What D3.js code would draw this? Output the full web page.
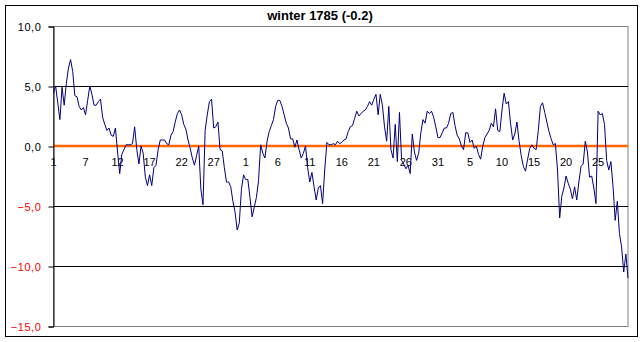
<!DOCTYPE html>
<html lang="en">
<head>
<meta charset="UTF-8">
<title>winter 1785</title>
<script src="https://d3js.org/d3.v7.min.js"></script>
<style>
  * { margin: 0; padding: 0; box-sizing: border-box; }
  body { background: #fff; font-family: Arial, "Liberation Sans", sans-serif; }
  svg { display: block; }
</style>
</head>
<body>
<div id="chart"></div>
<script>
// chart values, three readings a day, Dec 1785 - Feb 1786
const title = "winter 1785 (-0.2)";
const temps = [
  4.4, 5.0, 3.6, 2.2, 4.9, 3.4, 5.2, 6.5, 7.2, 6.2,
  4.2, 4.1, 3.3, 3.0, 3.2, 2.6, 3.8, 5.0, 4.3, 3.4,
  3.4, 3.7, 3.9, 2.4, 1.8, 1.3, 1.5, 0.9, 0.8, 1.5,
  -0.5, -2.3, -0.7, -0.3, 0.1, 0.1, 0.1, 0.2, 1.6, -0.3,
  -1.5, 0.0, -0.6, -2.6, -3.3, -2.4, -3.3, -1.8, -1.6, -0.3,
  0.5, 0.5, 0.5, 0.2, 0.1, 0.9, 1.2, 2.0, 2.7, 3.0,
  2.6, 1.8, 1.4, 0.5, -0.2, -1.0, -1.6, -0.8, 0.0, -3.6,
  -4.9, 1.3, 2.6, 3.7, 3.9, 1.5, 1.6, 2.0, -0.3, -0.4,
  -1.8, -3.0, -3.0, -3.4, -4.6, -5.5, -7.0, -6.4, -3.6, -2.4,
  -2.8, -2.8, -4.3, -5.9, -5.1, -4.3, -2.9, 0.1, -0.6, -1.0,
  0.4, 1.2, 1.7, 2.2, 3.3, 3.8, 3.8, 3.3, 2.6, 1.9,
  1.5, 0.6, 0.6, -0.1, 0.5, -0.3, -1.0, -0.6, 0.0, -1.8,
  -3.0, -2.2, -3.4, -4.5, -3.5, -3.3, -4.8, -2.0, 0.3, 0.1,
  0.1, 0.2, 0.1, 0.4, 0.2, 0.3, 0.5, 0.6, 1.2, 1.6,
  1.7, 2.3, 2.9, 2.5, 2.7, 2.9, 3.0, 3.3, 3.7, 3.4,
  3.9, 4.3, 2.6, 4.3, 3.4, 1.6, 0.4, 3.3, -0.3, -1.0,
  1.8, -1.3, 2.8, -1.2, -1.5, -1.9, -1.6, -2.3, 1.0, -0.5,
  -1.2, -0.6, 1.1, 2.2, 1.9, 2.9, 2.7, 2.9, 2.4, 1.6,
  0.7, 0.7, 1.1, 1.5, 1.5, 1.9, 2.7, 2.8, 1.7, 0.9,
  0.6, 0.0, -0.3, 1.1, 1.1, 0.3, 0.5, -0.2, 0.0, -0.7,
  -1.1, 0.0, 0.7, 1.0, 1.3, 1.9, 1.6, 3.1, 1.3, 1.2,
  3.0, 4.4, 3.5, 3.7, 1.9, 0.5, 1.0, 2.0, 0.4, -0.8,
  -1.7, -2.1, -1.1, -0.2, 0.1, -0.2, -0.3, 1.3, 3.3, 3.6,
  2.8, 2.0, 1.2, 0.6, 0.1, 0.2, -2.0, -6.0, -4.2, -3.5,
  -2.5, -3.1, -3.6, -4.4, -3.4, -4.5, -3.0, -1.7, -1.5, 0.4,
  -0.5, -2.6, -2.5, -3.5, -4.8, 2.9, 2.6, 2.7, 1.8, -1.2,
  -2.0, -1.3, -3.4, -6.2, -4.6, -7.3, -8.4, -10.5, -9.0, -11.0
];
// day labels, one every 15 readings
const dayLabels = ["1", "7", "12", "17", "22", "27", "1", "6", "11", "16", "21", "26", "31", "5", "10", "15", "20", "25"];
const labelStep = 15;
const yTicks = [10, 5, 0, -5, -10, -15];
const gridValues = [5, -5, -10];

const W = 643, H = 342;
const plotLeft = 53, plotRight = 628, plotTop = 26, plotBottom = 326;

const svg = d3.select("#chart").append("svg")
  .attr("width", W).attr("height", H);

// outer frame
svg.append("rect")
  .attr("x", 5.5).attr("y", 5.5)
  .attr("width", 632).attr("height", 331)
  .attr("fill", "#fff").attr("stroke", "#000").attr("stroke-width", 1);

const x = d3.scaleLinear().domain([0, temps.length - 1]).range([plotLeft + 0.5, plotRight]);
const y = d3.scaleLinear().domain([-15, 10]).range([plotBottom, plotTop]);

// plot area border (grey)
svg.append("rect")
  .attr("x", plotLeft + 0.5).attr("y", y(10) + 0.5)
  .attr("width", plotRight - plotLeft - 0.5).attr("height", y(-15) - y(10))
  .attr("fill", "none").attr("stroke", "#808080");

// gridlines
svg.selectAll(".grid")
  .data(gridValues)
  .enter().append("line")
  .attr("x1", plotLeft).attr("x2", plotRight)
  .attr("y1", d => Math.round(y(d)) + 0.5)
  .attr("y2", d => Math.round(y(d)) + 0.5)
  .attr("stroke", "#000");

// zero line
svg.append("line")
  .attr("x1", plotLeft).attr("x2", plotRight)
  .attr("y1", y(0)).attr("y2", y(0))
  .attr("stroke", "#FF6600").attr("stroke-width", 2.5);

// y axis
const fmt = d3.format(".1f");
const yAxis = svg.append("g")
  .attr("transform", `translate(${plotLeft + 0.5},0.5)`)
  .call(d3.axisLeft(y).tickValues(yTicks).tickSize(5).tickPadding(7)
    .tickFormat(d => fmt(d).replace(".", ",")));
yAxis.select(".domain").attr("stroke", "#000");
yAxis.selectAll(".tick line").attr("stroke", "#000");
yAxis.selectAll(".tick text")
  .attr("font-family", "Arial, 'Liberation Sans', sans-serif")
  .attr("font-size", 11)
  .attr("letter-spacing", 0.6)
  .attr("fill", d => d < 0 ? "#FF0000" : "#000");

// category labels under the zero line
svg.selectAll(".xlab")
  .data(dayLabels)
  .enter().append("text")
  .attr("x", (d, i) => x(i * labelStep))
  .attr("y", y(0) + 20)
  .attr("text-anchor", "middle")
  .attr("font-size", 11)
  .attr("fill", "#000")
  .text(d => d);

// temperature series
const line = d3.line()
  .x((d, i) => x(i))
  .y(d => y(d));

svg.append("path")
  .datum(temps)
  .attr("fill", "none")
  .attr("stroke", "#000080")
  .attr("stroke-width", 1)
  .attr("d", line);

// title
svg.append("text")
  .attr("x", 320).attr("y", 20)
  .attr("text-anchor", "middle")
  .attr("font-size", 13)
  .attr("font-weight", "bold")
  .attr("fill", "#000")
  .text(title);
</script>
</body>
</html>
